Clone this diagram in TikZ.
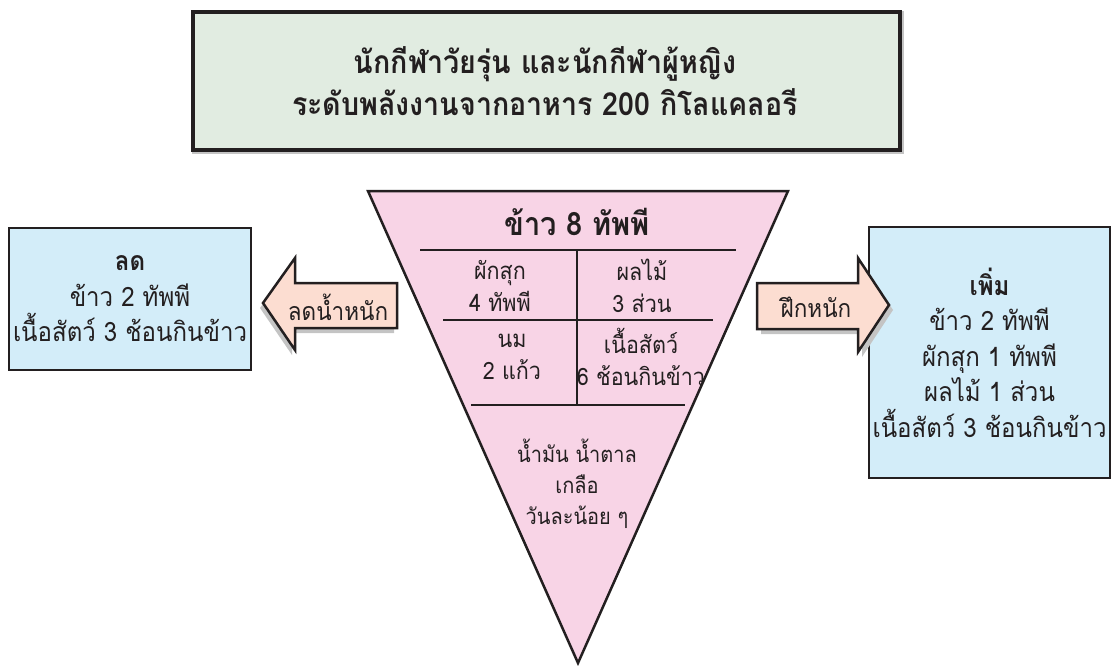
\documentclass[tikz,border=0pt]{standalone}
\usepackage{fontspec}
\newfontfamily\thaifont[Script=Thai,FakeStretch=0.9]{Loma}
\definecolor{titlefill}{HTML}{E1ECE1}
\definecolor{bluefill}{HTML}{D3EDF9}
\definecolor{pinkfill}{HTML}{F8D4E6}
\definecolor{peach}{HTML}{FCDDD1}
\definecolor{shadowgray}{HTML}{C4C4C4}
\definecolor{ink}{HTML}{231F20}
\begin{document}
\begin{tikzpicture}[x=1pt,y=-1pt,
  txt/.style={text=ink,align=center,inner sep=0pt,font=\thaifont\fontsize{23.9}{32}\selectfont},
  boxtxt/.style={txt,font=\thaifont\fontsize{26.7}{35.5}\selectfont},
  arrowtxt/.style={txt,font=\thaifont\fontsize{25}{30}\selectfont},
  titlebox/.style={draw=ink,line width=4pt,fill=titlefill,inner sep=0pt},
  bluebox/.style={draw=ink,line width=2.5pt,fill=bluefill,inner sep=0pt},
  arrowbody/.style={draw=ink,line width=2.5pt,fill=peach,line join=miter},
  arrowshadow/.style={fill=shadowgray,draw=none},
  divider/.style={draw=ink,line width=2.5pt}
]
\useasboundingbox (0,0) rectangle (1114,665);

% title
\fill[shadowgray] (192,11) rectangle (904,154);
\node[titlebox,minimum width=707pt,minimum height=138pt] (title) at (546.5,81) {};
\node[txt,font=\thaifont\bfseries\fontsize{31.8}{42}\selectfont] (titletext) at (545,81)
  {นักกีฬาวัยรุ่น และนักกีฬาผู้หญิง\\ระดับพลังงานจากอาหาร 200 กิโลแคลอรี};

% inverted triangle
\coordinate (tl) at (368,191);
\coordinate (tr) at (788,191);
\coordinate (apex) at (578,663);
\draw[ink,line width=2.5pt,fill=pinkfill,line join=miter] (tl) -- (tr) -- (apex) -- cycle;

\coordinate (l1a) at (420,250); \coordinate (l1b) at (736,250);
\coordinate (l2a) at (443,320); \coordinate (l2b) at (713,320);
\coordinate (l3a) at (471,405); \coordinate (l3b) at (685,405);
\coordinate (vt) at (577,250); \coordinate (vb) at (577,405);
\draw[divider] (l1a) -- (l1b);
\draw[divider] (l2a) -- (l2b);
\draw[divider] (l3a) -- (l3b);
\draw[divider] (vt) -- (vb);

\node[txt,font=\thaifont\bfseries\fontsize{32.2}{30}\selectfont] (rice) at (577,222) {ข้าว 8 ทัพพี};
\node[txt] (veg) at (500,286) {ผักสุก\\4 ทัพพี};
\node[txt] (fruit) at (642,286) {ผลไม้\\3 ส่วน};
\node[txt] (milk) at (512,357) {นม\\2 แก้ว};
\node[txt] (meat) at (641,357) {เนื้อสัตว์\\6 ช้อนกินข้าว};
\node[txt,font=\thaifont\fontsize{22.2}{31}\selectfont] (oil) at (577,484) {น้ำมัน น้ำตาล\\เกลือ\\วันละน้อย ๆ};

% left box
\node[bluebox,minimum width=242pt,minimum height=142pt] (lbox) at (130,299) {};
\node[boxtxt] (ltext) at (lbox.center) {\textbf{ลด}\\ข้าว 2 ทัพพี\\เนื้อสัตว์ 3 ช้อนกินข้าว};

% right box
\node[bluebox,minimum width=241pt,minimum height=251pt] (rbox) at (989.5,352.5) {};
\node[boxtxt] (rtext) at (rbox.center) {\textbf{เพิ่ม}\\ข้าว 2 ทัพพี\\ผักสุก 1 ทัพพี\\ผลไม้ 1 ส่วน\\เนื้อสัตว์ 3 ช้อนกินข้าว};

% left arrow (lose weight)
\fill[arrowshadow] (260,308) -- (292,263) -- (292,288) -- (394,288) -- (394,333) -- (292,333) -- (292,355) -- cycle;
\draw[arrowbody] (263,303) -- (295,258) -- (295,283) -- (397,283) -- (397,328) -- (295,328) -- (295,350) -- cycle;
\node[arrowtxt] (lose) at (338,307) {ลดน้ำหนัก};

% right arrow (training)
\fill[arrowshadow] (761,288) -- (862,288) -- (862,263) -- (893,310) -- (862,357) -- (862,334) -- (761,334) -- cycle;
\draw[arrowbody] (757,283) -- (858,283) -- (858,258) -- (889,305) -- (858,352) -- (858,329) -- (757,329) -- cycle;
\node[arrowtxt] (train) at (816,307) {ฝึกหนัก};
\end{tikzpicture}
\end{document}
